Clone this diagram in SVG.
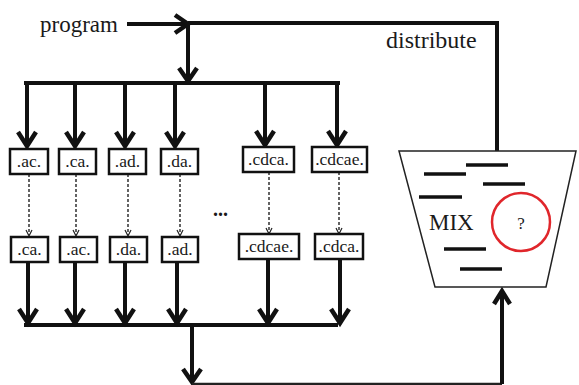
<svg xmlns="http://www.w3.org/2000/svg" width="579" height="385" viewBox="0 0 579 385" font-family="'Liberation Serif', 'DejaVu Serif', serif">
<defs>
<style>
text{font-family:'Liberation Serif','DejaVu Serif',serif;fill:#1a1a1a}
.lbl{font-size:17.5px;text-anchor:middle}
.big{font-size:23px}
.thick{stroke:#111;stroke-width:4;fill:none}
.head{stroke:#111;stroke-width:4.5;fill:none;stroke-linejoin:miter;stroke-linecap:butt}
.box{fill:#fff;stroke:#111;stroke-width:2.5}
.dash{stroke:#222;stroke-width:1.4;stroke-dasharray:3 2;fill:none}
.dhead{stroke:#222;stroke-width:1.2;fill:none}
.mix{stroke:#111;stroke-width:3.5}
</style>
</defs>
<rect width="579" height="385" fill="#fff"/>
<text class="big" x="40" y="32">program</text>
<text class="big" x="386" y="48" style="font-size:24px">distribute</text>
<g id="connectors">
<line class="thick" x1="127" y1="24" x2="186" y2="24"/>
<polyline class="head" points="175,15 188,24 175,33"/>
<polyline class="thick" points="188,23 497,23 497,151"/>
<line class="thick" x1="188" y1="23" x2="188" y2="80"/>
<polyline class="head" points="179,68 188,81 197,68"/>
<line class="thick" x1="24" y1="83" x2="340" y2="83"/>
<g>
<line class="thick" x1="27" y1="83" x2="27" y2="145"/><polyline class="head" points="18,132 27,146 36,132"/>
<line class="thick" x1="75" y1="83" x2="75" y2="145"/><polyline class="head" points="66,132 75,146 84,132"/>
<line class="thick" x1="125" y1="83" x2="125" y2="145"/><polyline class="head" points="116,132 125,146 134,132"/>
<line class="thick" x1="175" y1="83" x2="175" y2="145"/><polyline class="head" points="166,132 175,146 184,132"/>
<line class="thick" x1="265" y1="83" x2="265" y2="144"/><polyline class="head" points="256,131 265,145 274,131"/>
<line class="thick" x1="337" y1="83" x2="337" y2="144"/><polyline class="head" points="328,131 337,145 346,131"/>
</g>
<g>
<line class="dash" x1="29" y1="174" x2="29" y2="235"/><polyline class="dhead" points="26,230 29,236 32,230"/>
<line class="dash" x1="76" y1="174" x2="76" y2="235"/><polyline class="dhead" points="73,230 76,236 79,230"/>
<line class="dash" x1="128" y1="174" x2="128" y2="235"/><polyline class="dhead" points="125,230 128,236 131,230"/>
<line class="dash" x1="180" y1="174" x2="180" y2="235"/><polyline class="dhead" points="177,230 180,236 183,230"/>
<line class="dash" x1="269" y1="172" x2="269" y2="233"/><polyline class="dhead" points="266,228 269,234 272,228"/>
<line class="dash" x1="339" y1="172" x2="339" y2="233"/><polyline class="dhead" points="336,228 339,234 342,228"/>
</g>
<g>
<line class="thick" x1="28" y1="263" x2="28" y2="322"/><polyline class="head" points="19,309 28,323 37,309"/>
<line class="thick" x1="75" y1="263" x2="75" y2="322"/><polyline class="head" points="66,309 75,323 84,309"/>
<line class="thick" x1="125" y1="263" x2="125" y2="322"/><polyline class="head" points="116,309 125,323 134,309"/>
<line class="thick" x1="177" y1="263" x2="177" y2="322"/><polyline class="head" points="168,309 177,323 186,309"/>
<line class="thick" x1="268" y1="260" x2="268" y2="322"/><polyline class="head" points="259,309 268,323 277,309"/>
<line class="thick" x1="340" y1="260" x2="340" y2="322"/><polyline class="head" points="331,309 340,323 349,309"/>
</g>
<line class="thick" x1="24" y1="325" x2="338" y2="325"/>
<line class="thick" x1="192" y1="325" x2="192" y2="381"/>
<polyline class="head" points="183,369 192,382 201,369"/>
<polyline style="stroke:#222;stroke-width:2.5;fill:none" points="192,384 502,384"/>
<line class="thick" x1="502" y1="384" x2="502" y2="292"/>
<polyline class="head" points="494,304 502,291 510,304"/>
</g>
<g id="n-ac"><rect class="box" x="10" y="149" width="38" height="25"/><text class="lbl" x="29" y="167">.ac.</text></g>
<g id="n-ca"><rect class="box" x="59" y="149" width="37" height="25"/><text class="lbl" x="77.5" y="167">.ca.</text></g>
<g id="n-ad"><rect class="box" x="109" y="149" width="37" height="25"/><text class="lbl" x="127.5" y="167">.ad.</text></g>
<g id="n-da"><rect class="box" x="161" y="149" width="37" height="25"/><text class="lbl" x="179.5" y="167">.da.</text></g>
<g id="n-cdca"><rect class="box" x="243" y="147" width="51" height="25"/><text class="lbl" x="268.5" y="165">.cdca.</text></g>
<g id="n-cdcae"><rect class="box" x="312" y="147" width="55" height="25"/><text class="lbl" x="339.5" y="165">.cdcae.</text></g>
<g id="n-ca2"><rect class="box" x="11" y="237" width="37" height="25"/><text class="lbl" x="29.5" y="255">.ca.</text></g>
<g id="n-ac2"><rect class="box" x="60" y="237" width="37" height="25"/><text class="lbl" x="78.5" y="255">.ac.</text></g>
<g id="n-da2"><rect class="box" x="110" y="237" width="37" height="25"/><text class="lbl" x="128.5" y="255">.da.</text></g>
<g id="n-ad2"><rect class="box" x="162" y="237" width="36" height="25"/><text class="lbl" x="180" y="255">.ad.</text></g>
<g id="n-cdcae2"><rect class="box" x="239" y="234" width="60" height="25"/><text class="lbl" x="269" y="252">.cdcae.</text></g>
<g id="n-cdca2"><rect class="box" x="315" y="234" width="48" height="25"/><text class="lbl" x="339" y="252">.cdca.</text></g>
<g id="dots"><text x="213" y="216" style="font-size:20px;font-weight:bold">...</text></g>
<g id="n-mix">
<polygon points="399,151 576,151 546,287 435,287" style="fill:#fff;stroke:#222;stroke-width:1.5"/>
<line class="mix" x1="466" y1="165" x2="508" y2="165"/>
<line class="mix" x1="424" y1="174" x2="466" y2="174"/>
<line class="mix" x1="483" y1="184" x2="525" y2="184"/>
<line class="mix" x1="419" y1="197" x2="462" y2="197"/>
<line class="mix" x1="444" y1="249" x2="486" y2="249"/>
<line class="mix" x1="460" y1="269" x2="502" y2="269"/>
<text class="big" x="429" y="230">MIX</text>
<circle cx="521" cy="222" r="29" style="fill:none;stroke:#e0262b;stroke-width:2.5"/>
<text x="521" y="229" style="font-size:17px;text-anchor:middle">?</text>
</g>
</svg>
